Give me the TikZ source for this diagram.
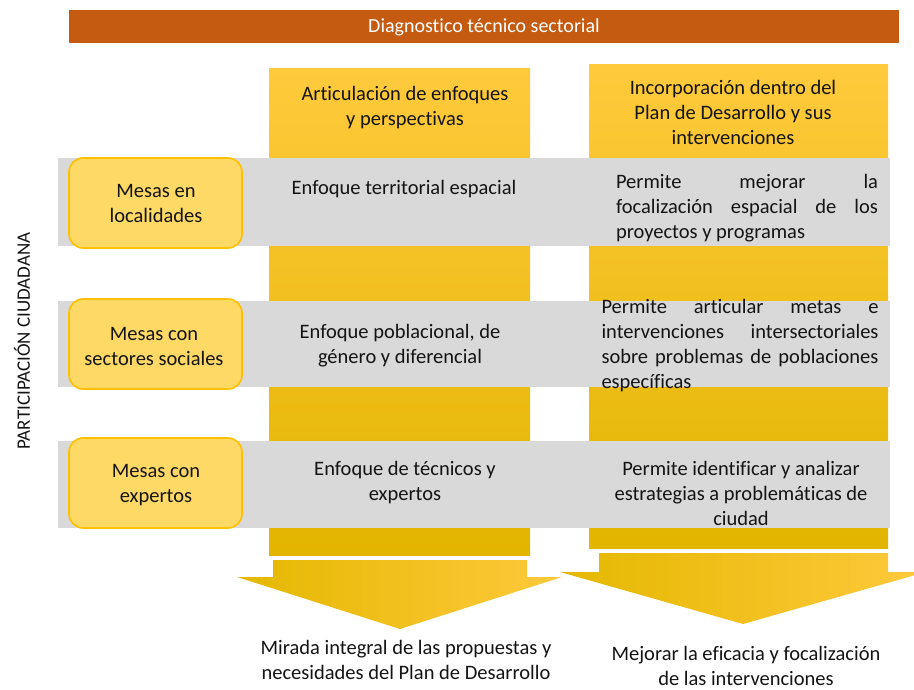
\documentclass[tikz,border=0pt]{standalone}
\usepackage{fontspec}
\setmainfont{Carlito}[Ligatures=NoCommon]
\definecolor{barorange}{RGB}{197,90,17}
\definecolor{bandgray}{RGB}{217,217,217}
\definecolor{boxfill}{RGB}{255,217,102}
\definecolor{boxline}{RGB}{255,192,0}
\definecolor{colTop}{RGB}{255,202,60}
\definecolor{colMid}{RGB}{255,197,12}
\definecolor{colBot}{RGB}{226,181,0}
\definecolor{arrLeft}{RGB}{228,184,0}
\definecolor{arrMid}{RGB}{255,194,0}
\definecolor{arrRight}{RGB}{255,201,60}
\definecolor{txt}{RGB}{20,20,20}
\newcommand{\mainsize}{\fontsize{20.5}{25}\selectfont\hyphenpenalty=10000\exhyphenpenalty=10000}
\tikzset{
  colshade/.style={top color=colTop, middle color=colMid, bottom color=colBot},
  arrshade/.style={left color=arrLeft, middle color=arrMid, right color=arrRight},
  band/.style={fill=bandgray},
  mesa/.style={draw=boxline, line width=1.6pt, fill=boxfill, rounded corners=14pt},
  tx/.style={text=txt, font=\mainsize, align=center, inner sep=0pt},
  jtx/.style={text=txt, font=\mainsize, align=justify, inner sep=0pt},
}
\begin{document}
\begin{tikzpicture}[x=1pt,y=-1pt]
\useasboundingbox (0,0) rectangle (914,689);
% title bar
\fill[barorange] (69,10) rectangle (899,43);
\node[text=white, font=\fontsize{20}{22}\selectfont, inner sep=0pt] (title) at (484,27) {Diagnostico técnico sectorial};
% columns
\shade[colshade] (269,68) rectangle (530,555);
\shade[colshade] (589,64) rectangle (888,548);
% bands
\fill[band] (58,158) rectangle (890,246);
\fill[band] (58,301) rectangle (890,387);
\fill[band] (58,441) rectangle (890,528);
% mesa boxes
\draw[mesa] (69,158) rectangle (242,248);
\draw[mesa] (69,299) rectangle (242,389);
\draw[mesa] (69,438) rectangle (242,528);
% arrows
\shade[arrshade] (273,560) -- (527,560) -- (527,577) -- (562,577) -- (400,629) -- (237,577) -- (273,577) -- cycle;
\begin{scope}
\clip (0,0) rectangle (914,689);
\shade[arrshade] (599,553) -- (888,553) -- (888,572) -- (926,572) -- (743,624) -- (560,572) -- (599,572) -- cycle;
\end{scope}
% side label
\node[rotate=90, text=txt, font=\fontsize{19}{22}\selectfont, inner sep=0pt] (part) at (22,341) {PARTICIPACIÓN CIUDADANA};
% headers
\node[tx] (h1) at (405,108) {Articulación de enfoques\\y perspectivas};
\node[tx] (h2) at (733,112) {Incorporación dentro del\\Plan de Desarrollo y sus\\intervenciones};
% mesa texts
\node[tx] (m1) at (156,203) {Mesas en\\localidades};
\node[tx] (m2) at (154,346) {Mesas con\\sectores sociales};
\node[tx] (m3) at (156,485) {Mesas con\\expertos};
% column 1 texts
\node[tx] (e1) at (404,189) {Enfoque territorial espacial};
\node[tx] (e2) at (400,346) {Enfoque poblacional, de\\género y diferencial};
\node[tx] (e3) at (405,483) {Enfoque de técnicos y\\expertos};
% column 2 texts
\node[jtx, text width=262pt] (p1) at (747,208) {Permite mejorar la\linebreak focalización espacial de los\linebreak proyectos y programas};
\node[jtx, text width=277pt] (p2) at (740,346) {Permite articular metas e\linebreak intervenciones intersectoriales\linebreak sobre problemas de poblaciones\linebreak específicas};
\node[tx] (p3) at (741,493) {Permite identificar y analizar\\estrategias a problemáticas de\\ciudad};
% bottom texts
\node[tx] (b1) at (406,660) {Mirada integral de las propuestas y\\necesidades del Plan de Desarrollo};
\node[tx] (b2) at (746,666) {Mejorar la eficacia y focalización\\de las intervenciones};
\end{tikzpicture}
\end{document}
